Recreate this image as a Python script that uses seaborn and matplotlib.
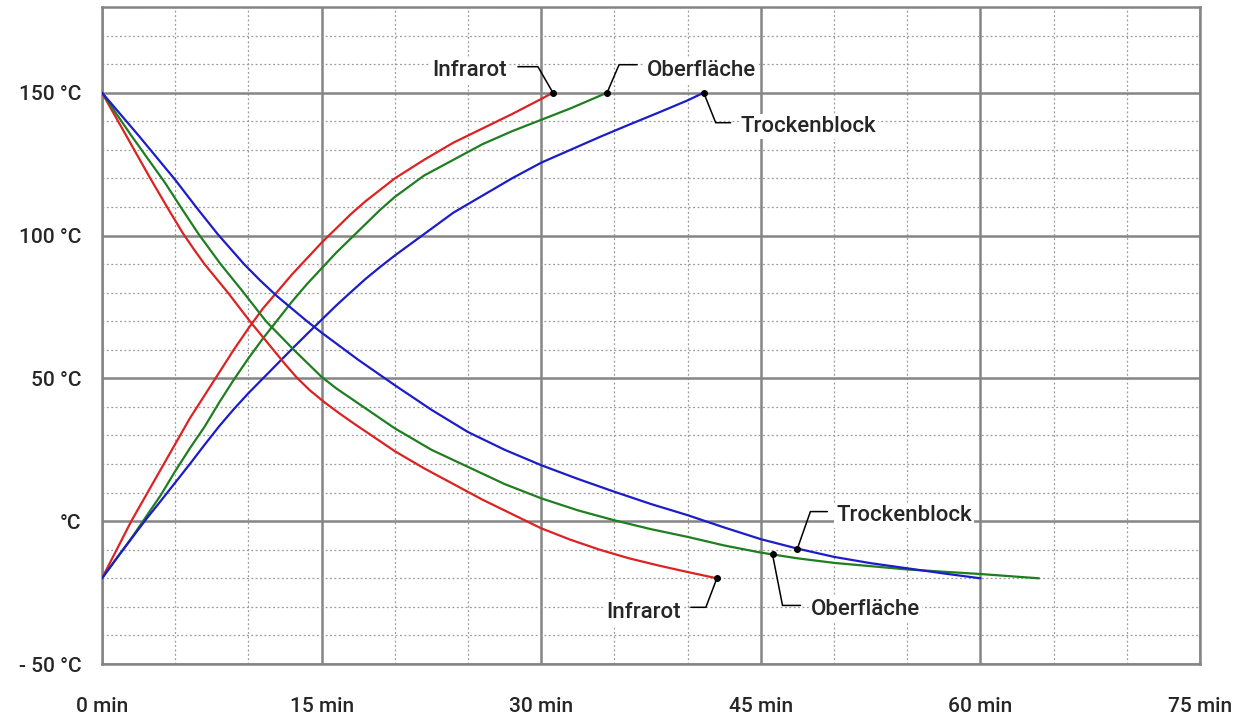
import matplotlib
matplotlib.use("Agg")
import matplotlib.pyplot as plt
import seaborn as sns
import numpy as np

# Aufheizen (von -20 °C auf 150 °C), Zeit in min, Temperatur in °C
heat_ir_t = [0, 1, 2, 3, 4, 5, 6, 7, 8, 9, 10, 11, 12, 13, 14, 15, 16, 17, 18, 19, 20, 22, 24, 26, 28, 30, 30.8]
heat_ir_T = [-20, -10, 0, 9, 18, 27, 36, 44, 52, 60, 67.5, 74.5, 80.5, 86.5, 92, 97.5, 102.5, 107.5, 112, 116,
             120, 126.5, 132.5, 137.5, 142.5, 147.8, 150]
heat_of_t = [0, 1, 2, 3, 4, 5, 6, 7, 8, 9, 10, 11, 12, 13, 14, 15, 16, 17, 18, 19, 20, 22, 24, 26, 28, 30, 32, 34.5]
heat_of_T = [-20, -13, -6, 1.5, 9, 17.5, 25.5, 33, 41.5, 49.5, 57, 64, 70.5, 77, 83, 88.5, 94, 99, 104, 109,
             113.5, 121, 126.5, 132, 136.5, 140.5, 144.5, 150]
heat_tb_t = [0, 1, 2, 3, 4, 5, 6, 7, 8, 9, 10, 11, 12, 13, 14, 15, 16, 17, 18, 19, 20, 22, 24, 26, 28, 30, 32,
             34, 36, 38, 40, 41.1]
heat_tb_T = [-20, -13, -6.2, 0.6, 7, 13.5, 20, 26.7, 33.2, 39.2, 44.8, 50, 55.2, 60.4, 65.5, 70.5, 75.5, 80.2,
             84.8, 89, 93, 100.5, 108, 114, 120, 125.5, 130, 134.5, 138.8, 143, 147.3, 150]

# Abkühlen (von 150 °C auf -20 °C)
cool_ir_t = [0, 3.3, 4.5, 5.5, 6.3, 7.0, 8.6, 10.1, 11.7, 12.5, 13.3, 14.2, 15.2, 16.2, 17.2, 18.5, 20, 22, 24, 26,
             28, 30, 32, 34, 36, 38, 40, 42]
cool_ir_T = [150, 120, 109.5, 101, 95, 90, 80, 70, 60, 55, 50.3, 45.8, 41.6, 37.8, 34.2, 29.7, 24.5, 18.5, 13, 7.5,
             2.5, -2.5, -6.5, -10, -13, -15.5, -17.8, -20]
cool_of_t = [0, 2, 4.3, 5.5, 6.6, 8.1, 9.6, 11.2, 13.1, 15, 16, 17, 18, 20, 22.5, 25, 27.5, 30, 32.5, 35, 37.5, 40,
             42.5, 45, 47.5, 50, 55, 60, 64]
cool_of_T = [150, 135, 118.5, 109, 100.5, 90, 80.5, 70, 60, 50.5, 46.5, 43, 39.5, 32.5, 25, 19, 13, 8, 3.8, 0.3,
             -2.8, -5.5, -8.5, -11, -13, -14.6, -16.9, -18.5, -20]
cool_tb_t = [0, 2.5, 5.0, 6.5, 7.9, 9.7, 10.8, 11.9, 14.0, 15, 17.5, 20, 22.5, 25, 27.5, 30, 32.5, 35, 37.5, 40,
             42.5, 45, 47.5, 50, 52.5, 55, 57.5, 60]
cool_tb_T = [150, 135, 119.5, 109.5, 100.5, 90, 84.3, 79, 70, 66, 56.5, 47.6, 39, 31.2, 25, 19.6, 14.8, 10.3, 6,
             2.1, -2.2, -6.3, -9.6, -12.5, -14.7, -16.5, -18.3, -20]

x_ticks = [0, 15, 30, 45, 60, 75]
x_labels = ["0 min", "15 min", "30 min", "45 min", "60 min", "75 min"]
y_ticks = [-50, 0, 50, 100, 150]
y_labels = ["- 50 °C", "°C", "50 °C", "100 °C", "150 °C"]

red, green, blue = "#dc2222", "#1f7e1f", "#1c1cc8"
grid_col = "#858585"

sns.set_style("white")
plt.rcParams["font.family"] = ["Roboto", "DejaVu Sans"]
plt.rcParams["font.weight"] = "medium"

fig = plt.figure(figsize=(12.53, 7.2), dpi=100)
ax = fig.add_axes([102 / 1253, 1 - 664 / 720, 1098 / 1253, 657 / 720])

for t, T, c in [(heat_ir_t, heat_ir_T, red), (heat_of_t, heat_of_T, green), (heat_tb_t, heat_tb_T, blue),
                (cool_ir_t, cool_ir_T, red), (cool_of_t, cool_of_T, green), (cool_tb_t, cool_tb_T, blue)]:
    sns.lineplot(x=t, y=T, color=c, lw=1.6, sort=False, estimator=None, ax=ax, zorder=3)

ax.set_xlim(0, 75)
ax.set_ylim(-50, 180)
ax.set_xticks(x_ticks)
ax.set_xticklabels(x_labels)
ax.set_yticks(y_ticks)
ax.set_yticklabels(y_labels)
ax.set_xticks(np.arange(0, 76, 5), minor=True)
ax.set_yticks(np.arange(-50, 181, 10), minor=True)
ax.grid(which="minor", color="#9a9a9a", ls=(0, (1.5, 2)), lw=0.9, zorder=1)
ax.grid(which="major", color=grid_col, ls="-", lw=1.8, zorder=2)
ax.set_axisbelow(True)
ax.tick_params(axis="x", which="both", length=0, pad=24, labelsize=15)
ax.tick_params(axis="y", which="major", length=7, width=1.8, color=grid_col, pad=8, labelsize=15)
ax.tick_params(axis="y", which="minor", length=0)
for s in ax.spines.values():
    s.set_color(grid_col)
    s.set_linewidth(1.8)

# Beschriftungen mit Führungslinien (Versatz in Pixeln)
labels = [
    ("Infrarot", heat_ir_t[-1], heat_ir_T[-1], (-15, 26), (-35, 26), (-46, 22), "right"),
    ("Oberfläche", heat_of_t[-1], heat_of_T[-1], (12, 28), (30, 28), (40, 22), "left"),
    ("Trockenblock", heat_tb_t[-1], heat_tb_T[-1], (12, -30), (27, -30), (37, -34), "left"),
    ("Infrarot", cool_ir_t[-1], cool_ir_T[-1], (-11, -29), (-26, -29), (-36, -34), "right"),
    ("Oberfläche", 45.8, float(np.interp(45.8, cool_of_t, cool_of_T)), (10, -51), (28, -51), (38, -55), "left"),
    ("Trockenblock", 47.5, float(np.interp(47.5, cool_tb_t, cool_tb_T)), (13, 37), (30, 37), (39, 33), "left"),
]
for text, x0, y0, corner, end, tpos, ha in labels:
    px, py = ax.transData.transform((x0, y0))
    xs = [px, px + corner[0], px + end[0]]
    ys = [py, py + corner[1], py + end[1]]
    pts = ax.transData.inverted().transform(np.column_stack([xs, ys]))
    ax.plot(pts[:, 0], pts[:, 1], color="black", lw=1.1, zorder=4)
    ax.plot([x0], [y0], "o", color="black", ms=4, zorder=5)
    tx, ty = ax.transData.inverted().transform((px + tpos[0], py + tpos[1]))
    ax.text(tx, ty, text, ha=ha, va="center", fontsize=16, zorder=4,
            bbox=dict(facecolor="white", edgecolor="none", pad=1.5))

fig.savefig("out.png", dpi=100)
